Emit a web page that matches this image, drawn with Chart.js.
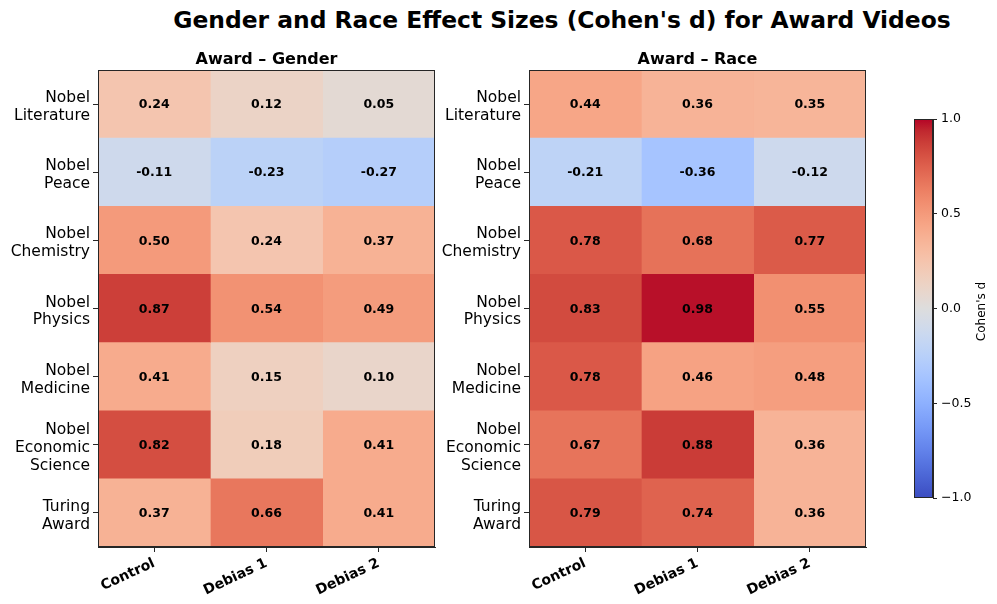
<!DOCTYPE html>
<html>
<head>
<meta charset="utf-8">
<script src="https://cdn.jsdelivr.net/npm/chart.js@4/dist/chart.umd.min.js"></script>
<style>
  html, body { margin: 0; padding: 0; background: #fff; }
  body { width: 997px; height: 604px; position: relative; overflow: hidden; font-family: "DejaVu Sans", sans-serif; }
  .box { position: absolute; top: 0; height: 604px; }
  #title { position: absolute; left: 112px; width: 900px; top: 5px; text-align: center; font: bold 23.4px "DejaVu Sans", sans-serif; line-height: 30px; color: #000; }
</style>
</head>
<body>
<div id="title">Gender and Race Effect Sizes (Cohen's d) for Award Videos</div>
<div class="box" style="left:0;width:450px"><canvas id="c1"></canvas></div>
<div class="box" style="left:420px;width:480px"><canvas id="c2"></canvas></div>
<div class="box" style="left:900px;width:97px"><canvas id="c3"></canvas></div>
<script>
// ---- data ----
const rowLabels = [["Nobel","Literature"],["Nobel","Peace"],["Nobel","Chemistry"],["Nobel","Physics"],["Nobel","Medicine"],["Nobel","Economic","Science"],["Turing","Award"]];
const conditions = ["Control","Debias 1","Debias 2"];
const genderControl = [0.24, -0.11, 0.50, 0.87, 0.41, 0.82, 0.37];
const genderDebias1 = [0.12, -0.23, 0.24, 0.54, 0.15, 0.18, 0.66];
const genderDebias2 = [0.05, -0.27, 0.37, 0.49, 0.10, 0.41, 0.41];
const raceControl = [0.44, -0.21, 0.78, 0.83, 0.78, 0.67, 0.79];
const raceDebias1 = [0.36, -0.36, 0.68, 0.98, 0.46, 0.88, 0.74];
const raceDebias2 = [0.35, -0.12, 0.77, 0.55, 0.48, 0.36, 0.36];
const colorRange = [-1, 1];
const colorTicks = [-1, -0.5, 0, 0.5, 1];

// ---- coolwarm colormap ----
const CW = [[59,76,192],[68,90,204],[77,104,215],[87,117,225],[98,130,234],[108,142,241],[119,154,247],[130,165,251],[141,176,254],[152,185,255],[163,194,255],[174,201,253],[184,208,249],[194,213,244],[204,217,238],[213,219,230],[221,221,221],[229,216,209],[236,211,197],[241,204,185],[245,196,173],[247,187,160],[247,177,148],[247,166,135],[244,154,123],[241,141,111],[236,127,99],[229,112,88],[222,96,77],[213,80,66],[203,62,56],[192,40,47],[180,4,38]];
function cmap(v) {
  let t = (v - colorRange[0]) / (colorRange[1] - colorRange[0]);
  t = Math.max(0, Math.min(1, t));
  const p = t * (CW.length - 1);
  const i = Math.min(CW.length - 2, Math.floor(p));
  const f = p - i;
  const c = CW[i].map((a, k) => Math.round(a + (CW[i+1][k] - a) * f));
  return `rgb(${c[0]},${c[1]},${c[2]})`;
}

const FONT = '"DejaVu Sans", sans-serif';
const AX = '#262626';

const cellPlugin = {
  id: 'cells',
  afterDatasetsDraw(chart) {
    const ctx = chart.ctx, xs = chart.scales.x, ys = chart.scales.y, a = chart.chartArea;
    const cols = chart.options.plugins.cells.values;
    ctx.save();
    ctx.font = 'bold 12.5px ' + FONT;
    ctx.fillStyle = '#000';
    ctx.textAlign = 'center';
    ctx.textBaseline = 'middle';
    cols.forEach((vals, j) => {
      vals.forEach((v, i) => {
        ctx.fillText(v.toFixed(2), xs.getPixelForValue(j + 0.5), ys.getPixelForValue(i) + 1);
      });
    });
    ctx.strokeStyle = AX;
    ctx.lineWidth = 1;
    ctx.strokeRect(a.left + 0.5, a.top + 0.5, a.right - a.left - 1, a.bottom - a.top - 1);
    ctx.font = 'bold 16px ' + FONT;
    ctx.textBaseline = 'alphabetic';
    ctx.fillText(chart.options.plugins.cells.title, (a.left + a.right) / 2, a.top - 6);
    ctx.restore();
  }
};

function heatmap(id, title, cols, yWidth, padRight) {
  const datasets = cols.map((vals, j) => ({
    data: vals.map(() => [j, j + 1]),
    backgroundColor: vals.map(cmap),
    borderWidth: 0,
    categoryPercentage: 1,
    barPercentage: 1,
    grouped: false
  }));
  return new Chart(document.getElementById(id), {
    type: 'bar',
    data: { labels: rowLabels, datasets },
    options: {
      indexAxis: 'y',
      responsive: true,
      maintainAspectRatio: false,
      animation: false,
      layout: { padding: { top: 70, right: padRight, bottom: 0, left: 0 } },
      plugins: { legend: { display: false }, tooltip: { enabled: false }, title: { display: false },
                 cells: { values: cols, title } },
      scales: {
        x: {
          type: 'linear', min: 0, max: conditions.length,
          afterBuildTicks(s) { s.ticks = conditions.map((c, j) => ({ value: j + 0.5 })); },
          afterFit(s) { s.height = 57; },
          ticks: {
            autoSkip: false, maxRotation: 25, minRotation: 25, padding: 3,
            color: '#000', font: { family: FONT, size: 14, weight: 'bold' },
            callback: (v, i) => conditions[i]
          },
          grid: { drawOnChartArea: false, drawTicks: true, tickLength: 5, color: AX },
          border: { display: true, color: AX }
        },
        y: {
          afterFit(s) { s.width = yWidth; },
          ticks: { color: '#000', padding: 3, labelOffset: 3, font: { family: FONT, size: 15.5, lineHeight: 1.15 } },
          grid: { drawOnChartArea: false, drawTicks: true, tickLength: 5, offset: false, color: AX },
          border: { display: true, color: AX }
        }
      }
    },
    plugins: [cellPlugin]
  });
}

heatmap('c1', 'Award \u2013 Gender', [genderControl, genderDebias1, genderDebias2], 98, 15);
heatmap('c2', 'Award \u2013 Race', [raceControl, raceDebias1, raceDebias2], 109, 34);

// ---- colorbar ----
const cbPlugin = {
  id: 'cbframe',
  afterDatasetsDraw(chart) {
    const ctx = chart.ctx, a = chart.chartArea;
    ctx.save();
    ctx.strokeStyle = AX; ctx.lineWidth = 1;
    ctx.strokeRect(a.left + 0.5, a.top + 0.5, a.right - a.left - 1, a.bottom - a.top - 1);
    ctx.translate(82, (a.top + a.bottom) / 2 + 3);
    ctx.rotate(-Math.PI / 2);
    ctx.font = '12px ' + FONT;
    ctx.fillStyle = '#000';
    ctx.textAlign = 'center'; ctx.textBaseline = 'middle';
    ctx.fillText("Cohen's d", 0, 0);
    ctx.restore();
  }
};
new Chart(document.getElementById('c3'), {
  type: 'bar',
  data: { labels: ['d'], datasets: [{
    data: [colorRange],
    categoryPercentage: 1, barPercentage: 1, borderWidth: 0,
    backgroundColor(ctx) {
      const ch = ctx.chart, a = ch.chartArea;
      if (!a) return '#ddd';
      const g = ch.ctx.createLinearGradient(0, a.bottom, 0, a.top);
      CW.forEach((c, i) => g.addColorStop(i / (CW.length - 1), `rgb(${c[0]},${c[1]},${c[2]})`));
      return g;
    }
  }] },
  options: {
    responsive: true, maintainAspectRatio: false, animation: false,
    layout: { padding: { top: 119, bottom: 106, left: 14, right: 0 } },
    plugins: { legend: { display: false }, tooltip: { enabled: false } },
    scales: {
      x: { display: false },
      y: {
        position: 'right', min: colorRange[0], max: colorRange[1],
        afterFit(s) { s.width = 64; },
        afterBuildTicks(s) { s.ticks = colorTicks.map(v => ({ value: v })); },
        ticks: { color: '#000', padding: 4, font: { family: FONT, size: 12.5 },
                 callback: v => (v < 0 ? '\u2212' : '') + Math.abs(v).toFixed(1) },
        grid: { drawOnChartArea: false, drawTicks: true, tickLength: 4, color: AX },
        border: { display: true, color: AX }
      }
    }
  },
  plugins: [cbPlugin]
});
</script>
</body>
</html>
